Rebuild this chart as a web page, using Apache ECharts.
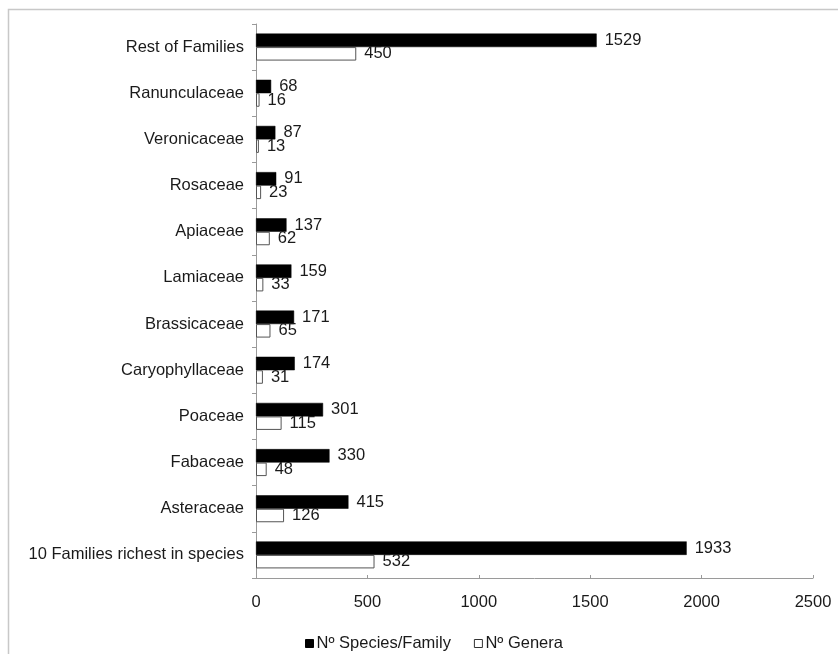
<!DOCTYPE html>
<html>
<head>
<meta charset="utf-8">
<script src="https://cdn.jsdelivr.net/npm/echarts@6/dist/echarts.min.js"></script>
<style>
  html, body { margin: 0; padding: 0; background: #fff; }
  #chart { width: 838px; height: 654px; }
</style>
</head>
<body>
<div id="chart"></div>
<script>
// Families listed bottom to top along the category axis
const families = [
  '10 Families richest in species', 'Asteraceae', 'Fabaceae', 'Poaceae',
  'Caryophyllaceae', 'Brassicaceae', 'Lamiaceae', 'Apiaceae', 'Rosaceae',
  'Veronicaceae', 'Ranunculaceae', 'Rest of Families'
];
const speciesPerFamily = [1933, 415, 330, 301, 174, 171, 159, 137, 91, 87, 68, 1529];
const generaPerFamily = [532, 126, 48, 115, 31, 65, 33, 62, 23, 13, 16, 450];
const xTicks = [0, 500, 1000, 1500, 2000, 2500];

const FONT = '"Liberation Sans", Arial, Helvetica, sans-serif';
const FS = 16.5;
const chart = echarts.init(document.getElementById('chart'));

const labelStyle = {
  show: true, position: 'right', distance: 8,
  color: '#1a1a1a', fontSize: FS, fontFamily: FONT
};

chart.setOption({
  animation: false,
  backgroundColor: '#fff',
  graphic: [{
    type: 'rect',
    shape: { x: 8.5, y: 9.5, width: 1000, height: 1000 },
    style: { fill: 'none', stroke: '#c8c8c8', lineWidth: 1.5 },
    silent: true, z: -1
  }],
  grid: { left: 256, right: 25, top: 24, bottom: 76, containLabel: false },
  legend: {
    left: 300, top: 630,
    itemWidth: 8, itemHeight: 8, itemGap: 23,
    icon: 'rect',
    textStyle: { fontSize: FS, fontFamily: FONT, color: '#1a1a1a', padding: [0, 0, 0, -2] },
    data: [
      { name: 'Nº Species/Family', itemStyle: { color: '#000', borderColor: '#000', borderWidth: 1 } },
      { name: 'Nº Genera', itemStyle: { color: '#fff', borderColor: '#333', borderWidth: 1 } }
    ]
  },
  xAxis: {
    type: 'value',
    min: xTicks[0], max: xTicks[xTicks.length - 1], interval: 500,
    axisLine: { show: true, lineStyle: { color: '#9a9a9a', width: 1 } },
    axisTick: { show: true, inside: true, length: 3, lineStyle: { color: '#9a9a9a' } },
    axisLabel: {
      fontSize: FS, fontFamily: FONT, color: '#1a1a1a', margin: 16,
      formatter: v => String(v)
    },
    splitLine: { show: false }
  },
  yAxis: {
    type: 'category',
    data: families,
    axisLine: { show: true, lineStyle: { color: '#9a9a9a', width: 1 } },
    axisTick: { show: true, length: 4, alignWithLabel: false, lineStyle: { color: '#9a9a9a' } },
    axisLabel: { fontSize: FS, fontFamily: FONT, color: '#1a1a1a', margin: 12 },
    splitLine: { show: false }
  },
  series: [
    {
      name: 'Nº Species/Family', type: 'bar', data: speciesPerFamily,
      barWidth: 13.5, barGap: '0%',
      itemStyle: { color: '#000', borderColor: '#000', borderWidth: 0.5 },
      label: labelStyle
    },
    {
      name: 'Nº Genera', type: 'bar', data: generaPerFamily,
      barWidth: 13.5, barGap: '0%',
      itemStyle: { color: '#fff', borderColor: '#555', borderWidth: 1 },
      label: labelStyle
    }
  ]
});
</script>
</body>
</html>
